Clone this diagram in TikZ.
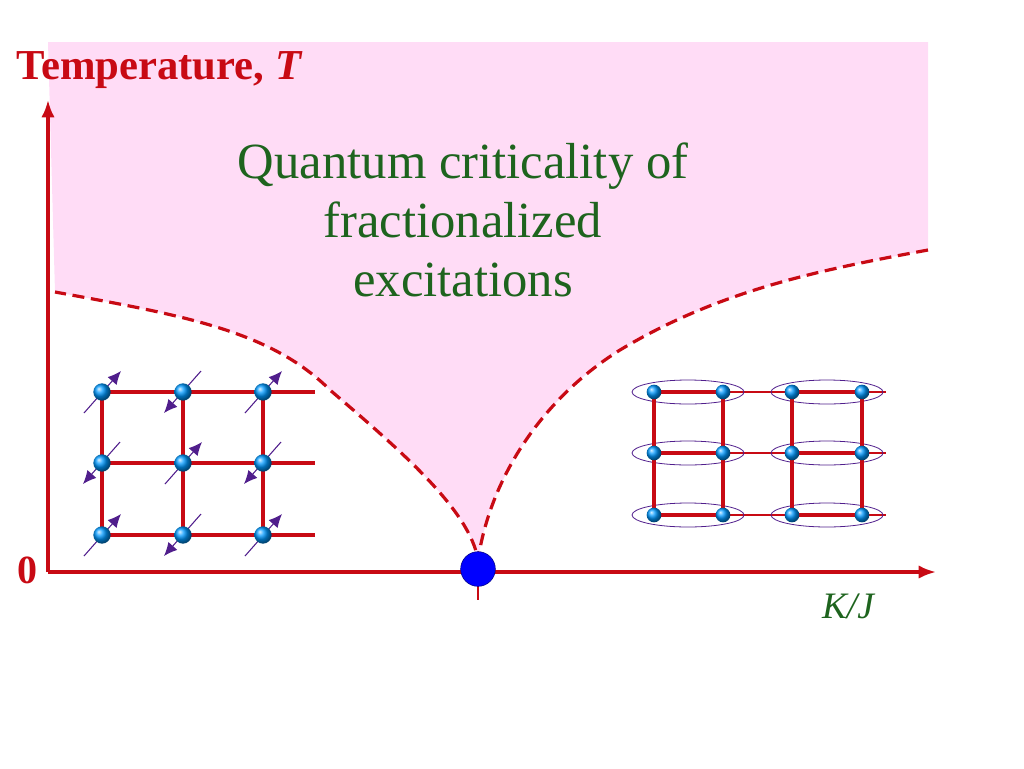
\documentclass[tikz,border=0pt]{standalone}
\usepackage{fontspec}
\setmainfont{Liberation Serif}
\definecolor{pinkbg}{RGB}{255,220,246}
\definecolor{axred}{RGB}{200,10,20}
\definecolor{txtgreen}{RGB}{30,100,30}
\definecolor{spin}{RGB}{80,30,140}
\tikzset{
  site/.style={circle,inner sep=0pt,minimum size=13pt,shading=ball,ball color=cyan!60!blue},
  bond/.style={axred,line width=2.6pt},
  weak/.style={axred,line width=1.4pt},
  spinarrow/.style={spin,line width=0.8pt,-{Latex[length=10pt,width=9pt]}},
}
\usetikzlibrary{arrows.meta}
\begin{document}
\begin{tikzpicture}[x=0.75pt,y=-0.75pt]
    \useasboundingbox(0,0)rectangle(1024,768);
    %% pink region above the crossover lines
    \fill[pinkbg](48,42)--(928,42)--(928,250)
        ..controls(820,270)and(720,290)..(620,350)
        ..controls(540,400)and(490,480)..(478,560)
        ..controls(470,510)and(400,450)..(330,390)
        ..controls(270,330)and(180,315)..(55,292)--cycle;
    \draw[axred,line width=2.4pt,dash pattern=on 9pt off 5pt](928,250)
        ..controls(820,270)and(720,290)..(620,350)
        ..controls(540,400)and(490,480)..(478,560)
        ..controls(470,510)and(400,450)..(330,390)
        ..controls(270,330)and(180,315)..(55,292);
    \draw[axred,line width=2pt](478,580)--(478,600);
    %% axes
    \coordinate(o)at(48,572);
    \coordinate(ty)at(48,100);
    \coordinate(kx)at(936,572);
    \draw[axred,line width=2.4pt,-{Latex[length=13pt,width=10pt]}](o)--(ty);
    \draw[axred,line width=2.4pt,-{Latex[length=13pt,width=10pt]}](o)--(kx);
    \node[axred,font=\bfseries\fontsize{32}{36}\selectfont,anchor=west](tlab)at(12,70){Temperature, \textit{T}};
    \node[axred,font=\bfseries\fontsize{30}{36}\selectfont](zero)at(27,570){0};
    \node[txtgreen,font=\itshape\fontsize{28}{32}\selectfont](kj)at(848,606){K/J};
    \node[txtgreen,font=\fontsize{38}{44}\selectfont,align=center](qc)at(463,220)
        {Quantum criticality of\\fractionalized\\excitations};
    \node[circle,fill=blue,draw=blue!50!black,minimum size=26pt,inner sep=0pt](qcp)at(478,569){};
    %% Neel lattice
    \foreach \y in {392,463,535}{\draw[bond](102,\y)--(315,\y);}
    \foreach \x in {102,183,263}{\draw[bond](\x,392)--(\x,535);}
    \foreach \x/\y/\s in {102/392/1,183/392/-1,263/392/1,102/463/-1,183/463/1,263/463/-1,102/535/1,183/535/-1,263/535/1}{
        \draw[spinarrow](\x-\s*18,\y+\s*21)--(\x+\s*19,\y-\s*21);
        \node[site](n\x\y)at(\x,\y){};
    }
    %% valence bond solid
    \foreach \y in {392,453,515}{
        \draw[weak](654,\y)--(886,\y);
        \draw[bond](654,\y)--(723,\y);
        \draw[bond](792,\y)--(862,\y);
        \draw[spin,line width=0.6pt](688,\y)ellipse(42pt and 9pt);
        \draw[spin,line width=0.6pt](827,\y)ellipse(42pt and 9pt);
    }
    \foreach \x in {654,723,792,862}{\draw[bond](\x,392)--(\x,515);}
    \foreach \x in {654,723,792,862}{\foreach \y in {392,453,515}{\node[site,minimum size=11pt](v\x\y)at(\x,\y){};}}
\end{tikzpicture}
\end{document}
